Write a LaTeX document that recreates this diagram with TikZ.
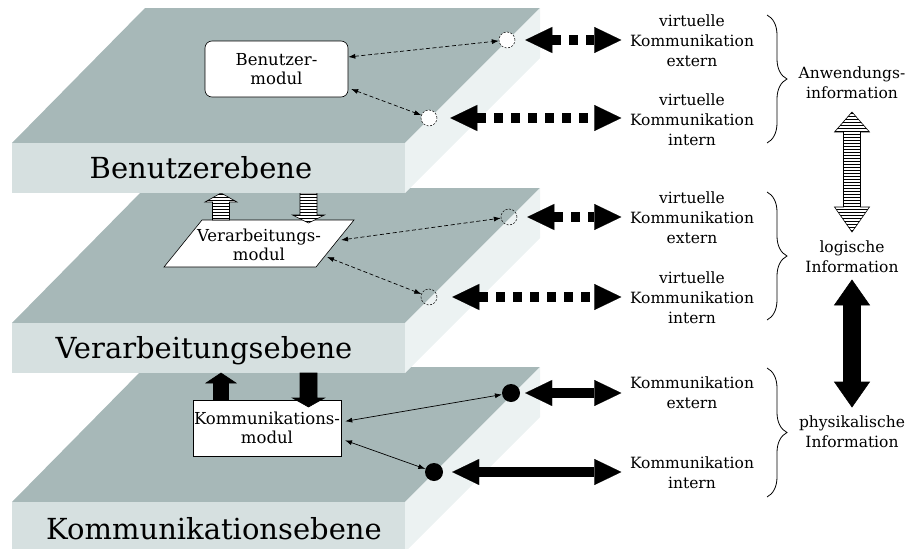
\documentclass[tikz,border=0pt]{standalone}
\usepackage{fontspec}
\setmainfont{DejaVu Serif}
\usetikzlibrary{arrows.meta,patterns,decorations.pathreplacing}

\definecolor{topgray}{HTML}{A7B8B8}
\definecolor{frontgray}{HTML}{D6E0E0}
\definecolor{sidegray}{HTML}{ECF2F2}

% one layer slab: #1 = y of the back edge of its top face
\newcommand\drawslab[1]{%
  \fill[topgray] (145,#1) -- (540,#1) -- (405,#1+135) -- (12,#1+135) -- cycle;
  \fill[frontgray] (12,#1+135) rectangle (405,#1+185);
  \fill[sidegray] (405,#1+135) -- (540,#1) -- (540,#1+50) -- (405,#1+185) -- cycle;
}
% vertical block arrow: style, x, tip y, head base y, tail y, half shaft, half head
\newcommand\vblock[7]{%
  \draw[#1] (#2-#6,#5) -- (#2-#6,#4) -- (#2-#7,#4) -- (#2,#3) -- (#2+#7,#4)
    -- (#2+#6,#4) -- (#2+#6,#5) -- cycle;}
% vertical double block arrow: style, x, top tip, top head base, bottom head base, bottom tip, half shaft, half head
\newcommand\vdouble[8]{%
  \draw[#1] (#2,#3) -- (#2+#8,#4) -- (#2+#7,#4) -- (#2+#7,#5) -- (#2+#8,#5)
    -- (#2,#6) -- (#2-#8,#5) -- (#2-#7,#5) -- (#2-#7,#4) -- (#2-#8,#4) -- cycle;}

\tikzset{
  layer/.style={font=\fontsize{29}{32}\selectfont, anchor=base, inner sep=0pt},
  modtext/.style={font=\fontsize{16.5}{19}\selectfont, align=center, inner sep=1pt},
  modbox/.style={draw=black, fill=white, line width=0.6pt},
  coltext/.style={font=\fontsize{15.5}{20}\selectfont, align=center, inner sep=0pt},
  hollowpt/.style={circle, draw=black, line width=0.5pt, dash pattern=on 2pt off 1.5pt,
    minimum size=16pt, inner sep=0pt},
  solidpt/.style={circle, fill=black, minimum size=18pt, inner sep=0pt},
  dasharr/.style={line width=0.7pt, dash pattern=on 4pt off 2.5pt,
    {Latex[length=7pt,width=5pt]}-{Latex[length=7pt,width=5pt]}},
  thinarr/.style={line width=0.7pt,
    {Latex[length=7pt,width=5pt]}-{Latex[length=7pt,width=5pt]}},
  fatarr/.style={line width=9.5pt,
    {Triangle[length=27pt,width=26pt,line width=0.1pt]}-{Triangle[length=27pt,width=26pt,line width=0.1pt]}},
  fatdash/.style={fatarr, dash pattern=on 9pt off 8pt},
  stripe/.style={draw=black, line width=0.6pt, preaction={fill=white}, pattern=horizontal lines},
  solidblk/.style={draw=black, line width=0.6pt, fill=black},
  bracket/.style={line width=0.8pt, decorate, decoration={brace, amplitude=20pt}},
}

\begin{document}
\begin{tikzpicture}[x=1pt, y=-1pt]
\useasboundingbox (0,0) rectangle (914,549);

% ---------- Kommunikationsebene ----------
\drawslab{367}
\node[layer] (lk) at (214,539) {Kommunikationsebene};

% ---------- Verarbeitungsebene ----------
\drawslab{188}
\node[layer] (lv) at (204,358) {Verarbeitungsebene};

% communication module with its ports
\node[modbox, modtext, minimum width=144pt, minimum height=56pt] (km) at (267,428)
  {Kommunikations-\\modul};
\node[solidpt] (k1) at (511,393) {};
\node[solidpt] (k2) at (434,472) {};
\draw[thinarr, shorten <=4pt] ([yshift=6pt]km.east) -- (k1);
\draw[thinarr, shorten <=4pt] ([yshift=-11pt]km.east) -- (k2);
\vblock{solidblk}{221}{373}{383}{400}{7.5}{15}
\vblock{solidblk}{308.5}{407}{398}{373}{8.5}{16}

% processing module with its ports
\draw[modbox] (202,220) -- (354,220) -- (316,267) -- (164,267) -- cycle;
\node[modtext, inner sep=0pt] (vm) at (259,245) {Verarbeitungs-\\modul};
\coordinate (vmA) at (341,240);
\coordinate (vmB) at (327,257);
\node[hollowpt] (v1) at (509,217) {};
\node[hollowpt] (v2) at (429,297) {};
\draw[dasharr] (vmA) -- (v1);
\draw[dasharr] (vmB) -- (v2);
\vblock{stripe}{221}{193}{202}{220}{8.5}{16}
\vblock{stripe}{308.5}{223}{215}{193}{8.5}{16}

% ---------- Benutzerebene ----------
\drawslab{8}
\node[layer] (lb) at (201,178) {Benutzerebene};

\node[modbox, modtext, rounded corners=7pt, minimum width=143pt, minimum height=56pt]
  (bm) at (276.5,69) {Benutzer-\\modul};
\node[hollowpt, fill=white] (b1) at (507,40) {};
\node[hollowpt, fill=white] (b2) at (429,118) {};
\draw[dasharr] ([yshift=12pt]bm.east) -- (b1);
\draw[dasharr, shorten <=3pt] ([yshift=-19pt]bm.east) -- (b2);

% ---------- right column ----------
\node[coltext] (t1) at (692,41) {virtuelle\\Kommunikation\\extern};
\node[coltext] (t2) at (692,120) {virtuelle\\Kommunikation\\intern};
\node[coltext] (t3) at (692,218) {virtuelle\\Kommunikation\\extern};
\node[coltext] (t4) at (692,298) {virtuelle\\Kommunikation\\intern};
\node[coltext] (t5) at (692,393) {Kommunikation\\extern};
\node[coltext] (t6) at (692,473) {Kommunikation\\intern};

\draw[fatdash, shorten <=10pt, shorten >=8.5pt] (b1) -- (b1 -| t1.west);
\draw[fatdash, shorten <=13pt, shorten >=8.5pt] (b2) -- (b2 -| t2.west);
\draw[fatdash, shorten <=10pt, shorten >=8.5pt] (v1) -- (v1 -| t3.west);
\draw[fatdash, shorten <=15pt, shorten >=8.5pt] (v2) -- (v2 -| t4.west);
\draw[fatarr, shorten <=5pt, shorten >=8.5pt] (k1) -- (k1 -| t5.west);
\draw[fatarr, shorten <=9pt, shorten >=8.5pt] (k2) -- (k2 -| t6.west);

% braces grouping the communication kinds
\coordinate (g1a) at (767,15);  \coordinate (g1b) at (767,143);
\coordinate (g2a) at (767,192); \coordinate (g2b) at (767,320);
\coordinate (g3a) at (767,368); \coordinate (g3b) at (767,497);
\draw[bracket] (g1a) -- (g1b);
\draw[bracket] (g2a) -- (g2b);
\draw[bracket] (g3a) -- (g3b);

\node[coltext] (i1) at (852,83) {Anwendungs-\\information};
\node[coltext] (i2) at (852,257) {logische\\Information};
\node[coltext] (i3) at (852,432) {physikalische\\Information};

\vdouble{stripe}{852}{112}{132}{207}{232}{8.5}{17.5}
\vdouble{solidblk}{852}{280}{305}{382}{407}{8.5}{17.5}
\end{tikzpicture}
\end{document}
